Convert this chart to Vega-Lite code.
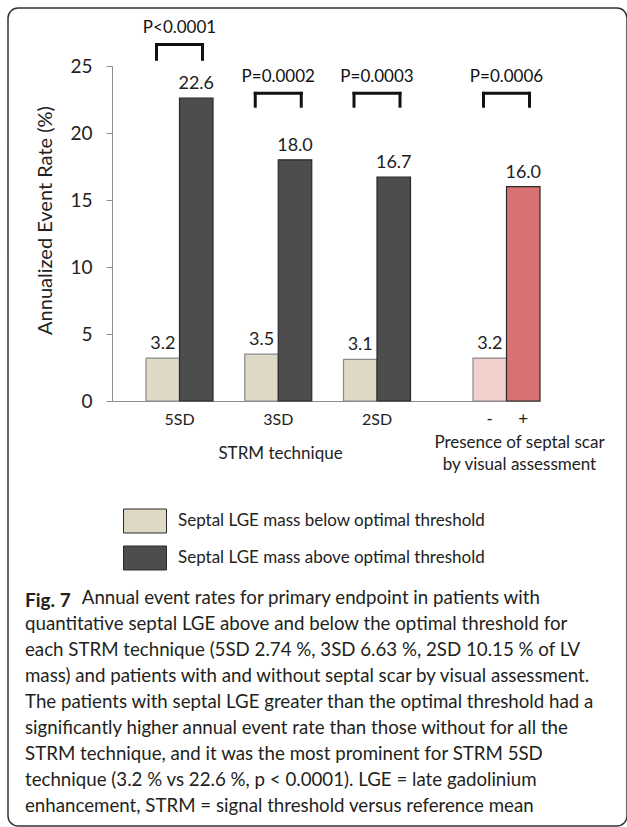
{
  "$schema": "https://vega.github.io/schema/vega-lite/v6.json",
  "width": 619,
  "height": 818,
  "autosize": {"type": "none"},
  "padding": {"left": 8, "top": 8, "right": 0, "bottom": 1},
  "background": "white",
  "view": {"stroke": "#333333", "strokeWidth": 1.5, "cornerRadius": 10},
  "config": {
    "font": "Lato",
    "axis": {"labelFont": "Lato", "titleFont": "Lato", "grid": false},
    "legend": {"labelFont": "Lato"},
    "title": {"font": "Lato", "subtitleFont": "Lato"}
  },
  "datasets": {
    "strm": [
      {"technique": "5SD", "series": "Septal LGE mass below optimal threshold", "rate": 3.2},
      {"technique": "5SD", "series": "Septal LGE mass above optimal threshold", "rate": 22.6},
      {"technique": "3SD", "series": "Septal LGE mass below optimal threshold", "rate": 3.5},
      {"technique": "3SD", "series": "Septal LGE mass above optimal threshold", "rate": 18.0},
      {"technique": "2SD", "series": "Septal LGE mass below optimal threshold", "rate": 3.1},
      {"technique": "2SD", "series": "Septal LGE mass above optimal threshold", "rate": 16.7}
    ],
    "visual": [
      {"scar": "-", "series": "Septal scar absent", "rate": 3.2},
      {"scar": "+", "series": "Septal scar present", "rate": 16.0}
    ],
    "pv_strm": [
      {"technique": "5SD", "p": "P<0.0001"},
      {"technique": "3SD", "p": "P=0.0002"},
      {"technique": "2SD", "p": "P=0.0003"}
    ],
    "pv_visual": [
      {"scar": "+", "p": "P=0.0006"}
    ]
  },
  "title": {
    "text": "Fig. 7",
    "subtitle": [
      "\u200b\u00a0\u00a0\u00a0\u00a0\u00a0\u00a0\u00a0\u00a0\u00a0\u00a0\u00a0\u00a0Annual event rates for primary endpoint in patients with",
      "quantitative septal LGE above and below the optimal threshold for",
      "each STRM technique (5SD 2.74 %, 3SD 6.63 %, 2SD 10.15 % of LV",
      "mass) and patients with and without septal scar by visual assessment.",
      "The patients with septal LGE greater than the optimal threshold had a",
      "significantly higher annual event rate than those without for all the",
      "STRM technique, and it was the most prominent for STRM 5SD",
      "technique (3.2 % vs 22.6 %, p < 0.0001). LGE = late gadolinium",
      "enhancement, STRM = signal threshold versus reference mean"
    ],
    "orient": "bottom",
    "anchor": "start",
    "frame": "group",
    "offset": -234,
    "dx": 17,
    "fontSize": 19,
    "fontWeight": "bold",
    "color": "#231f20",
    "subtitleFontSize": 18.7,
    "subtitleColor": "#231f20",
    "subtitleLineHeight": 26,
    "subtitlePadding": -22
  },
  "layer": [
    {
      "data": {"name": "strm"},
      "encoding": {
        "x": {
          "field": "technique",
          "type": "nominal",
          "sort": ["5SD", "3SD", "2SD"],
          "scale": {"range": [104, 532], "paddingInner": 0.3215, "paddingOuter": 0.828, "align": 0.208},
          "axis": {
            "title": "STRM technique",
            "orient": "bottom",
            "offset": -425,
            "ticks": false,
            "domainColor": "#8c8c8c",
            "domainWidth": 1.2,
            "labelAngle": 0,
            "labelFontSize": 16,
            "labelPadding": 10,
            "labelColor": "#222222",
            "titleFontSize": 17,
            "titleFontWeight": "normal",
            "titleColor": "#222222",
            "titleX": 272,
            "titleY": 52,
            "titleBaseline": "middle",
            "titleAlign": "center"
          }
        }
      },
      "layer": [
        {
          "mark": {"type": "bar", "strokeWidth": 1.2},
          "encoding": {
            "xOffset": {
              "field": "series",
              "type": "nominal",
              "sort": ["Septal LGE mass below optimal threshold", "Septal LGE mass above optimal threshold"],
              "scale": {"paddingInner": 0, "paddingOuter": 0}
            },
            "y": {
              "field": "rate",
              "type": "quantitative",
              "scale": {"domain": [0, 25], "range": [393, 58], "nice": false},
              "axis": {
                "title": "Annualized Event Rate (%)",
                "orient": "left",
                "offset": -104,
                "values": [0, 5, 10, 15, 20, 25],
                "domainColor": "#8c8c8c",
                "tickColor": "#8c8c8c",
                "tickSize": 6,
                "labelFontSize": 19,
                "labelPadding": 14,
                "labelColor": "#222222",
                "titleFontSize": 20,
                "titleFontWeight": "normal",
                "titleColor": "#222222",
                "titleX": -67,
                "titleY": 212,
                "titleBaseline": "middle",
                "titleAlign": "center",
                "titleAngle": -90
              }
            },
            "fill": {
              "field": "series",
              "type": "nominal",
              "scale": {
                "domain": ["Septal LGE mass below optimal threshold", "Septal LGE mass above optimal threshold", "Septal scar absent", "Septal scar present"],
                "range": ["#ddd9c4", "#4d4d4d", "#f1cfcb", "#d87272"]
              },
              "legend": {
                "orient": "none",
                "legendX": 115,
                "legendY": 491,
                "title": null,
                "values": ["Septal LGE mass below optimal threshold", "Septal LGE mass above optimal threshold"],
                "symbolType": "M-1,-0.558H1V0.558H-1Z",
                "symbolSize": 1849,
                "symbolStrokeColor": "#666666",
                "symbolStrokeWidth": 1,
                "labelFontSize": 17,
                "labelColor": "#222222",
                "labelOffset": 11,
                "labelLimit": 400,
                "rowPadding": 1,
                "padding": 0
              }
            },
            "stroke": {
              "condition": {"test": "datum.series === 'Septal LGE mass below optimal threshold'", "value": "#8a8a8a"},
              "value": "#2a2a2a"
            }
          }
        },
        {
          "mark": {"type": "text", "baseline": "alphabetic", "dy": -9, "fontSize": 18, "color": "#222222"},
          "encoding": {
            "xOffset": {"field": "series", "type": "nominal", "sort": ["Septal LGE mass below optimal threshold", "Septal LGE mass above optimal threshold"]},
            "y": {"field": "rate", "type": "quantitative"},
            "text": {"field": "rate", "type": "quantitative", "format": ".1f"}
          }
        },
        {
          "data": {"name": "pv_strm"},
          "transform": [{"filter": "datum.technique === '5SD'"}],
          "layer": [
            {
              "mark": {"type": "text", "fontSize": 17, "baseline": "middle", "color": "#111111"},
              "encoding": {"y": {"datum": 27.8}, "text": {"field": "p"}}
            },
            {
              "mark": {"type": "rule", "strokeWidth": 3, "strokeCap": "square", "color": "#111111", "xOffset": -23, "x2Offset": 23},
              "encoding": {"x2": {"field": "technique"}, "y": {"datum": 26.6}}
            },
            {
              "mark": {"type": "rule", "strokeWidth": 3, "strokeCap": "square", "color": "#111111", "xOffset": -23},
              "encoding": {"y": {"datum": 26.6}, "y2": {"datum": 25.5}}
            },
            {
              "mark": {"type": "rule", "strokeWidth": 3, "strokeCap": "square", "color": "#111111", "xOffset": 23},
              "encoding": {"y": {"datum": 26.6}, "y2": {"datum": 25.5}}
            }
          ]
        },
        {
          "data": {"name": "pv_strm"},
          "transform": [{"filter": "datum.technique !== '5SD'"}],
          "layer": [
            {
              "mark": {"type": "text", "fontSize": 17, "baseline": "middle", "color": "#111111"},
              "encoding": {"y": {"datum": 24.15}, "text": {"field": "p"}}
            },
            {
              "mark": {"type": "rule", "strokeWidth": 3, "strokeCap": "square", "color": "#111111", "xOffset": -23, "x2Offset": 23},
              "encoding": {"x2": {"field": "technique"}, "y": {"datum": 22.96}}
            },
            {
              "mark": {"type": "rule", "strokeWidth": 3, "strokeCap": "square", "color": "#111111", "xOffset": -23},
              "encoding": {"y": {"datum": 22.96}, "y2": {"datum": 22.0}}
            },
            {
              "mark": {"type": "rule", "strokeWidth": 3, "strokeCap": "square", "color": "#111111", "xOffset": 23},
              "encoding": {"y": {"datum": 22.96}, "y2": {"datum": 22.0}}
            }
          ]
        }
      ]
    },
    {
      "data": {"name": "visual"},
      "encoding": {
        "x": {
          "field": "scar",
          "type": "nominal",
          "sort": ["-", "+"],
          "scale": {"range": [465, 532], "paddingInner": 0, "paddingOuter": 0},
          "axis": {
            "title": ["Presence of septal scar", "by visual assessment"],
            "orient": "bottom",
            "offset": -425,
            "ticks": false,
            "domain": false,
            "labelAngle": 0,
            "labelFontSize": 17,
            "labelPadding": 10,
            "labelColor": "#222222",
            "titleFontSize": 17,
            "titleFontWeight": "normal",
            "titleColor": "#222222",
            "titleX": 511,
            "titleY": 33,
            "titleBaseline": "top",
            "titleAlign": "center",
            "titleLineHeight": 22
          }
        }
      },
      "layer": [
        {
          "mark": {"type": "bar", "strokeWidth": 1.2},
          "encoding": {
            "y": {"field": "rate", "type": "quantitative"},
            "fill": {"field": "series", "type": "nominal"},
            "stroke": {
              "condition": {"test": "datum.scar === '-'", "value": "#8a8a8a"},
              "value": "#2a2a2a"
            }
          }
        },
        {
          "mark": {"type": "text", "baseline": "alphabetic", "dy": -9, "fontSize": 18, "color": "#222222"},
          "encoding": {
            "y": {"field": "rate", "type": "quantitative"},
            "text": {"field": "rate", "type": "quantitative", "format": ".1f"}
          }
        },
        {
          "data": {"name": "pv_visual"},
          "encoding": {"x": {"field": "scar", "type": "nominal", "bandPosition": 0}},
          "layer": [
            {
              "mark": {"type": "text", "fontSize": 17, "baseline": "middle", "color": "#111111"},
              "encoding": {"y": {"datum": 24.15}, "text": {"field": "p"}}
            },
            {
              "mark": {"type": "rule", "strokeWidth": 3, "strokeCap": "square", "color": "#111111", "xOffset": -23, "x2Offset": 23},
              "encoding": {"x2": {"field": "scar", "bandPosition": 0}, "y": {"datum": 22.96}}
            },
            {
              "mark": {"type": "rule", "strokeWidth": 3, "strokeCap": "square", "color": "#111111", "xOffset": -23},
              "encoding": {"y": {"datum": 22.96}, "y2": {"datum": 22.0}}
            },
            {
              "mark": {"type": "rule", "strokeWidth": 3, "strokeCap": "square", "color": "#111111", "xOffset": 23},
              "encoding": {"y": {"datum": 22.96}, "y2": {"datum": 22.0}}
            }
          ]
        }
      ]
    }
  ],
  "resolve": {"scale": {"x": "independent"}, "axis": {"x": "independent"}}
}
